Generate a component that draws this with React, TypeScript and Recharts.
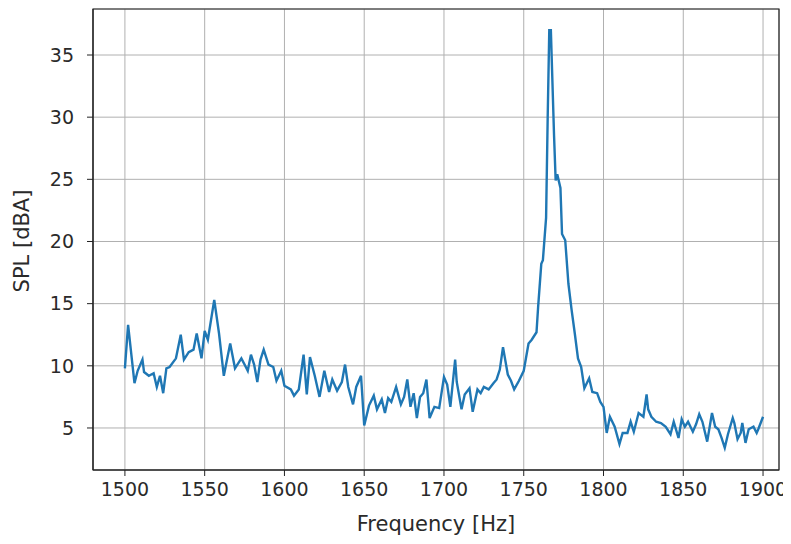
import {
  LineChart,
  Line,
  XAxis,
  YAxis,
  CartesianGrid,
  ReferenceArea,
} from "recharts";

// frequency [Hz]
const freq = [
  1500, 1502, 1506, 1508, 1511, 1512, 1515, 1518, 1520, 1522, 1524, 1526, 1528,
  1532, 1535, 1537, 1540, 1543, 1545, 1548, 1550, 1552, 1556, 1559, 1562, 1566,
  1569, 1573, 1575, 1577, 1579, 1581, 1583, 1585, 1587, 1590, 1593, 1595, 1598,
  1600, 1604, 1606, 1609, 1612, 1614, 1616, 1619, 1622, 1625, 1628, 1630, 1633,
  1636, 1638, 1640, 1643, 1645, 1648, 1650, 1653, 1656, 1658, 1661, 1663, 1665,
  1667, 1670, 1673, 1675, 1677, 1679, 1681, 1683, 1685, 1687, 1689, 1691, 1694,
  1697, 1700, 1702, 1704, 1707, 1708, 1711, 1713, 1716, 1718, 1721, 1723, 1725,
  1728, 1731, 1733, 1735, 1737, 1740, 1742, 1744, 1747, 1750, 1753, 1755, 1758,
  1759, 1761, 1762, 1764, 1765, 1766, 1767, 1769, 1770, 1771, 1773, 1774, 1776,
  1778, 1780, 1782, 1784, 1786, 1788, 1791, 1793, 1796, 1798, 1800, 1802, 1804,
  1807, 1810, 1812, 1815, 1817, 1819, 1822, 1825, 1827, 1828, 1830, 1833, 1836,
  1839, 1842, 1844, 1847, 1849, 1851, 1853, 1856, 1858, 1860, 1862, 1865, 1868,
  1870, 1872, 1874, 1876, 1878, 1881, 1882, 1884, 1886, 1887, 1889, 1891, 1894,
  1896, 1897, 1900,
];

// SPL [dBA]
const spl = [
  9.8, 13.3, 8.6, 9.6, 10.5, 9.5, 9.2, 9.4, 8.3, 9.2, 7.8, 9.8, 9.9,
  10.6, 12.5, 10.5, 11.1, 11.3, 12.6, 10.6, 12.8, 12.1, 15.3, 12.6, 9.2, 11.8,
  9.8, 10.6, 10.1, 9.6, 10.9, 10.1, 8.7, 10.5, 11.3, 10.1, 9.9, 8.8, 9.6,
  8.4, 8.1, 7.6, 8.1, 10.9, 7.7, 10.7, 9.2, 7.5, 9.6, 7.9, 8.9, 8.0,
  8.7, 10.1, 8.3, 6.9, 8.3, 9.2, 5.2, 6.8, 7.6, 6.5, 7.3, 6.2, 7.4,
  7.1, 8.3, 6.9, 7.5, 8.9, 6.7, 7.8, 5.8, 7.5, 7.8, 8.9, 5.8, 6.7,
  6.6, 9.1, 8.5, 6.7, 10.5, 8.7, 6.5, 7.7, 8.2, 6.3, 8.1, 7.8, 8.3,
  8.1, 8.6, 8.9, 9.7, 11.5, 9.3, 8.8, 8.1, 8.8, 9.6, 11.8, 12.1, 12.7,
  14.7, 18.2, 18.5, 21.9, 29.9, 37.0, 37.0, 28.5, 24.9, 25.4, 24.3, 20.6, 20.1,
  16.6, 14.5, 12.6, 10.6, 9.9, 8.2, 9.0, 7.9, 7.8, 7.1, 6.7, 4.6, 5.9,
  5.1, 3.7, 4.6, 4.6, 5.5, 4.7, 6.2, 5.9, 7.7, 6.5, 5.9, 5.5, 5.4,
  5.1, 4.5, 5.5, 4.2, 5.7, 5.1, 5.5, 4.7, 5.3, 6.1, 5.5, 3.9, 6.2,
  5.1, 4.9, 4.2, 3.4, 4.5, 5.8, 5.4, 4.1, 4.6, 5.4, 3.8, 4.9, 5.1,
  4.6, 4.9, 5.9,
];

const xTicks = [1500, 1550, 1600, 1650, 1700, 1750, 1800, 1850, 1900];
const yTicks = [5, 10, 15, 20, 25, 30, 35];

const data = freq.map((f, i) => ({ f, spl: spl[i] }));

const X_DOMAIN: [number, number] = [1480, 1910];
const Y_DOMAIN: [number, number] = [1.62, 38.7];

const tickStyle = { fontFamily: "DejaVu Sans", fontSize: 19, fill: "#2a2a2a" };

export default function App() {
  return (
    <div style={{ position: "relative", width: 783, height: 536 }}>
      <LineChart
        width={783}
        height={536}
        data={data}
        margin={{ top: 1, right: 12, left: 0, bottom: 0 }}
      >
        <CartesianGrid stroke="#b0b0b0" strokeWidth={1} />
        <XAxis
          dataKey="f"
          type="number"
          domain={X_DOMAIN}
          ticks={xTicks}
          allowDataOverflow
          height={74}
          tickSize={6}
          tickMargin={7}
          tick={tickStyle}
          stroke="#222"
        />
        <YAxis
          type="number"
          domain={Y_DOMAIN}
          ticks={yTicks}
          allowDataOverflow
          width={85}
          tickSize={6}
          tickMargin={13}
          tick={tickStyle}
          stroke="#222"
        />
        <Line
          type="linear"
          dataKey="spl"
          stroke="#1f77b4"
          strokeWidth={2.4}
          dot={false}
          isAnimationActive={false}
        />
        <ReferenceArea
          x1={X_DOMAIN[0]}
          x2={X_DOMAIN[1]}
          y1={Y_DOMAIN[0]}
          y2={Y_DOMAIN[1]}
          fill="none"
          stroke="#222"
          strokeWidth={1.2}
          ifOverflow="visible"
        />
      </LineChart>
      <div
        style={{
          position: "absolute",
          left: 0,
          width: 783,
          top: 504,
          textAlign: "center",
          paddingLeft: 85,
          boxSizing: "border-box",
          paddingRight: 12,
          fontFamily: "DejaVu Sans",
          fontSize: 21,
          color: "#2a2a2a",
        }}
      >
        Frequency [Hz]
      </div>
      <div
        style={{
          position: "absolute",
          left: 14,
          top: 233,
          transform: "translate(-50%, -50%) rotate(-90deg)",
          whiteSpace: "nowrap",
          fontFamily: "DejaVu Sans",
          fontSize: 21,
          color: "#2a2a2a",
        }}
      >
        SPL [dBA]
      </div>
    </div>
  );
}
